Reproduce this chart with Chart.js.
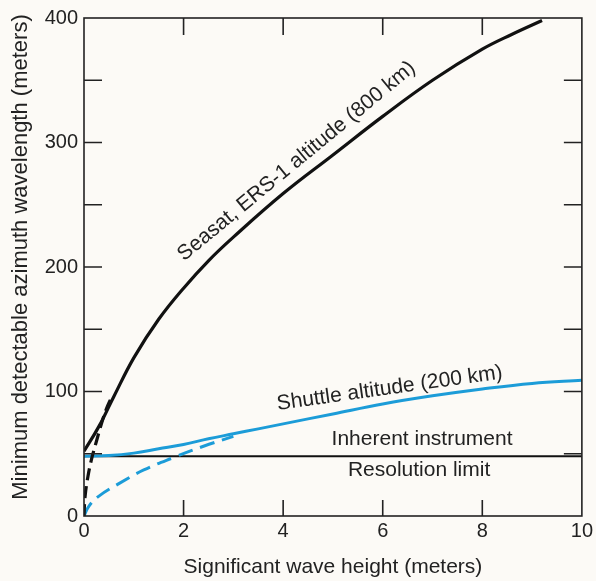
<!DOCTYPE html>
<html>
<head>
<meta charset="utf-8">
<script src="https://cdn.jsdelivr.net/npm/chart.js@4.4.1/dist/chart.umd.min.js"></script>
<style>
    body { margin: 0; background: #fcfaf6; }
    #wrap { width: 596px; height: 581px; position: relative; }
</style>
</head>
<body>
<div id="wrap"><canvas id="chart"></canvas></div>
<script>
// Tick values
const xTickValues = [0, 2, 4, 6, 8, 10];
const yTickValues = [0, 100, 200, 300, 400];
const xMarkValues = [2, 4, 6, 8];
const yMarkValues = [50, 100, 150, 200, 250, 300, 350];

// Seasat, ERS-1 altitude (800 km)
const seasatX = [0, 0.3, 0.6, 1.0, 1.5, 2.0, 2.5, 3.0, 4.0, 5.0, 6.0, 7.0, 8.0, 8.6, 9.2];
const seasatY = [52, 72, 96, 127, 158, 183, 205, 224, 259, 290, 321, 350, 375, 387, 398];
const seasatDashX = [0, 0.02, 0.08, 0.16, 0.25, 0.35, 0.45, 0.56];
const seasatDashY = [0, 15, 32, 47, 60, 74, 86, 96];

// Shuttle altitude (200 km)
const shuttleX = [0, 0.5, 1, 1.5, 2, 2.5, 3, 3.5, 4, 5, 6, 7, 8, 9, 10];
const shuttleY = [48, 48.5, 50.5, 54, 57.5, 62, 66, 70, 74, 82, 90, 96.5, 102, 106.5, 109];
const shuttleDashX = [0, 0.1, 0.3, 0.7, 1.2, 1.8, 2.4, 3.0];
const shuttleDashY = [0, 8, 16, 26, 37, 47, 56, 64];

// Inherent instrument resolution limit
const limitX = [0, 10];
const limitY = [48, 48];

const ink = '#222222';
const blue = '#1c9cd8';
const paper = '#fcfaf6';
const fontFamily = "'Liberation Sans', Arial, sans-serif";
const yTitle = 'Minimum detectable azimuth wavelength (meters)';

// Text placed on the plot (data coordinates)
const curveLabels = [
    { text: 'Seasat, ERS-1 altitude (800 km)', x: 4.27, y: 285, angle: -39.5 },
    { text: 'Shuttle altitude (200 km)', x: 6.14, y: 102.5, angle: -8 },
    { text: 'Inherent instrument', x: 6.79, y: 61.7, angle: 0 },
    { text: 'Resolution limit', x: 6.73, y: 36.9, angle: 0 }
];

function points(xs, ys) {
    return xs.map((v, i) => ({ x: v, y: ys[i] }));
}

const paperPlugin = {
    id: 'paper',
    beforeDraw(chart) {
        const ctx = chart.ctx;
        ctx.save();
        ctx.fillStyle = paper;
        ctx.fillRect(0, 0, chart.width, chart.height);
        ctx.restore();
    },
    afterDraw(chart) {
        const { ctx, chartArea: a } = chart;
        // y axis title, sits a little above the middle of the axis
        ctx.save();
        ctx.fillStyle = ink;
        ctx.font = '22px ' + fontFamily;
        ctx.textAlign = 'center';
        ctx.textBaseline = 'middle';
        ctx.translate(20.5, (a.top + a.bottom) / 2 - 10);
        ctx.rotate(-Math.PI / 2);
        ctx.fillText(yTitle, 0, 0);
        ctx.restore();
    },
    afterDatasetsDraw(chart) {
        const { ctx, chartArea: a, scales: { x, y } } = chart;
        ctx.save();
        ctx.strokeStyle = ink;
        ctx.lineWidth = 1.6;
        ctx.strokeRect(a.left, a.top, a.right - a.left, a.bottom - a.top);

        // inward tick marks on all four sides
        ctx.beginPath();
        xMarkValues.forEach(v => {
            const px = x.getPixelForValue(v);
            ctx.moveTo(px, a.bottom); ctx.lineTo(px, a.bottom - 16);
            ctx.moveTo(px, a.top); ctx.lineTo(px, a.top + 17);
        });
        yMarkValues.forEach(v => {
            const py = y.getPixelForValue(v);
            ctx.moveTo(a.left, py); ctx.lineTo(a.left + 18, py);
            ctx.moveTo(a.right, py); ctx.lineTo(a.right - 18, py);
        });
        ctx.stroke();

        // curve labels
        ctx.fillStyle = ink;
        ctx.font = '21px ' + fontFamily;
        ctx.textAlign = 'center';
        ctx.textBaseline = 'middle';
        curveLabels.forEach(l => {
            ctx.save();
            ctx.translate(x.getPixelForValue(l.x), y.getPixelForValue(l.y));
            ctx.rotate(l.angle * Math.PI / 180);
            ctx.fillText(l.text, 0, 0);
            ctx.restore();
        });
        ctx.restore();
    }
};

const ctx = document.getElementById('chart').getContext('2d');
new Chart(ctx, {
    type: 'line',
    data: {
        datasets: [
            {
                data: points(seasatX, seasatY),
                borderColor: '#111',
                borderWidth: 3.2
            },
            {
                data: points(seasatDashX, seasatDashY),
                borderColor: '#111',
                borderWidth: 3.2,
                borderDash: [12, 6]
            },
            {
                data: points(shuttleX, shuttleY),
                borderColor: blue,
                borderWidth: 3
            },
            {
                data: points(shuttleDashX, shuttleDashY),
                borderColor: blue,
                borderWidth: 3,
                borderDash: [15, 8]
            },
            {
                data: points(limitX, limitY),
                borderColor: '#111',
                borderWidth: 1.8,
                tension: 0
            }
        ]
    },
    options: {
        responsive: true,
        maintainAspectRatio: false,
        animation: false,
        layout: {
            padding: { left: 0, top: 17, right: 10, bottom: 0 }
        },
        elements: {
            point: { radius: 0, hoverRadius: 0 },
            line: { tension: 0.4, fill: false }
        },
        plugins: {
            legend: { display: false },
            tooltip: { enabled: false }
        },
        scales: {
            x: {
                type: 'linear',
                min: 0,
                max: 10,
                afterBuildTicks: scale => { scale.ticks = xTickValues.map(v => ({ value: v })); },
                afterFit: scale => { scale.height = 65; },
                grid: { display: false, drawTicks: false },
                border: { display: false },
                ticks: {
                    color: ink,
                    padding: 3,
                    maxRotation: 0,
                    font: { family: fontFamily, size: 20 }
                },
                title: {
                    display: true,
                    text: 'Significant wave height (meters)',
                    color: ink,
                    padding: { top: 0, bottom: 1 },
                    font: { family: fontFamily, size: 21 }
                }
            },
            y: {
                type: 'linear',
                min: 0,
                max: 400,
                afterBuildTicks: scale => { scale.ticks = yTickValues.map(v => ({ value: v })); },
                afterFit: scale => { scale.width = 84; },
                grid: { display: false, drawTicks: false },
                border: { display: false },
                ticks: {
                    color: ink,
                    padding: 6,
                    font: { family: fontFamily, size: 20 }
                }
            }
        }
    },
    plugins: [paperPlugin]
});
</script>
</body>
</html>
